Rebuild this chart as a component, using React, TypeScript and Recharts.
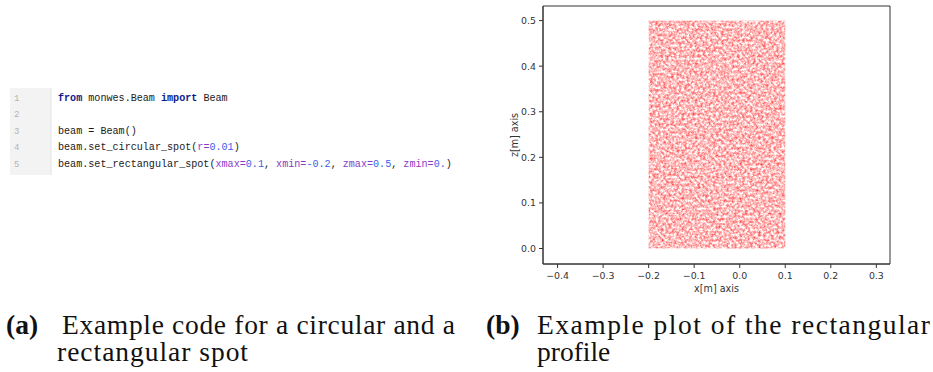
import React from 'react';
import {
  ScatterChart,
  Scatter,
  XAxis,
  YAxis,
  ReferenceArea,
  Label,
} from 'recharts';

// axis ticks of the profile plot
const xTicks = [-0.4, -0.3, -0.2, -0.1, 0.0, 0.1, 0.2, 0.3];
const zTicks = [0.0, 0.1, 0.2, 0.3, 0.4, 0.5];
const xDomain = [-0.432, 0.33];
const zDomain = [-0.034, 0.532];

// rectangular spot extents (xmin, xmax / zmin, zmax)
const spotX = [-0.2, 0.1];
const spotZ = [0.0, 0.5];

// code listing, one array of [text, kind] runs per line
const codeLines: [string, string][][] = [
  [['from', 'kw'], [' monwes.Beam ', 'tx'], ['import', 'kw'], [' Beam', 'tx']],
  [],
  [['beam = Beam()', 'tx']],
  [['beam.set_circular_spot(', 'tx'], ['r=', 'arg'], ['0.01', 'num'], [')', 'tx']],
  [
    ['beam.set_rectangular_spot(', 'tx'],
    ['xmax=', 'arg'], ['0.1', 'num'], [', ', 'tx'],
    ['xmin=', 'arg'], ['-0.2', 'num'], [', ', 'tx'],
    ['zmax=', 'arg'], ['0.5', 'num'], [', ', 'tx'],
    ['zmin=', 'arg'], ['0.', 'num'], [')', 'tx'],
  ],
];

const codeColors: Record<string, string> = {
  kw: '#0b1a8a',
  tx: '#1a1a1a',
  arg: '#8a3cc4',
  num: '#3d5ee8',
};

const fmtTick = (v: number) => {
  const s = Math.abs(v).toFixed(1);
  return v < -1e-9 ? `\u2212${s}` : s;
};

const tickStyle = { fill: '#333', fontSize: 9.4, fontFamily: 'DejaVu Sans' };

const SpeckledRect = (props: any) => {
  const { x, y, width, height } = props;
  return <rect x={x} y={y} width={width} height={height} fill="#ff0000" filter="url(#speckle)" />;
};

function CodePanel() {
  const top = 100.5;
  const step = 16.5;
  return (
    <g>
      <rect x={10} y={88} width={41} height={87} fill="#f3f3f3" />
      <line x1={51} y1={88} x2={51} y2={175} stroke="#e2e2e2" />
      {codeLines.map((runs, i) => (
        <g key={i}>
          <text x={14} y={top + i * step} fontFamily="Liberation Mono" fontSize={9} fill="#b4b4b4">
            {i + 1}
          </text>
          <text x={58} y={top + i * step} fontFamily="Liberation Mono" fontSize={10.1}>
            {runs.map(([t, k], j) => (
              <tspan key={j} fill={codeColors[k]} fontWeight={k === 'kw' ? 700 : 400}>
                {t}
              </tspan>
            ))}
          </text>
        </g>
      ))}
    </g>
  );
}

function Captions() {
  const font = { fontFamily: 'Liberation Serif', fontSize: 27.5, fill: '#111' };
  return (
    <g>
      <text x={6} y={334} {...font} fontWeight={700}>(a)</text>
      <text x={62} y={334} {...font} textLength={393}>Example code for a circular and a</text>
      <text x={57} y={361} {...font} textLength={191}>rectangular spot</text>
      <text x={486} y={334} {...font} fontWeight={700}>(b)</text>
      <text x={537} y={334} {...font} textLength={393}>Example plot of the rectangular</text>
      <text x={537} y={361} {...font}>profile</text>
    </g>
  );
}

export default function App() {
  return (
    <div style={{ position: 'absolute', left: 0, top: 0, width: 933, height: 372, background: '#fff' }}>
      <svg width={933} height={372} style={{ position: 'absolute', left: 0, top: 0 }}>
        <CodePanel />
        <Captions />
      </svg>
      <div style={{ position: 'absolute', left: 490, top: 0 }}>
        <ScatterChart width={443} height={300} margin={{ top: 6, right: 43, bottom: 0, left: 0 }}>
          <defs>
            <filter id="speckle" x="0" y="0" width="1" height="1" colorInterpolationFilters="sRGB">
              <feTurbulence type="fractalNoise" baseFrequency="0.38" numOctaves={3} seed={7} result="noise" />
              <feColorMatrix
                in="noise"
                type="matrix"
                values="0 0 0 0 1  0 0 0 0 0.12  0 0 0 0 0.12  1.4 0 0 0 -0.4"
                result="dots"
              />
              <feGaussianBlur in="dots" stdDeviation="0.3" result="soft" />
              <feComposite in="soft" in2="SourceGraphic" operator="in" />
            </filter>
          </defs>
          <XAxis
            type="number"
            dataKey="x"
            domain={xDomain}
            ticks={xTicks}
            tickFormatter={fmtTick}
            allowDataOverflow
            height={36}
            tickSize={4}
            tickMargin={4}
            stroke="#333"
            tick={tickStyle}
          >
            <Label value="x[m] axis" position="insideBottom" offset={8} style={{ fill: '#333', fontSize: 9.6, fontFamily: 'DejaVu Sans' }} />
          </XAxis>
          <YAxis
            type="number"
            dataKey="z"
            domain={zDomain}
            ticks={zTicks}
            tickFormatter={fmtTick}
            allowDataOverflow
            width={53}
            tickSize={4}
            tickMargin={3}
            stroke="#333"
            tick={tickStyle}
          >
            <Label value="z[m] axis" angle={-90} position="center" dx={-1.5} style={{ fill: '#333', fontSize: 9.6, fontFamily: 'DejaVu Sans' }} />
          </YAxis>
          <ReferenceArea
            x1={spotX[0]}
            x2={spotX[1]}
            y1={spotZ[0]}
            y2={spotZ[1]}
            shape={SpeckledRect}
          />
          {/* frame around the axes */}
          <ReferenceArea
            x1={xDomain[0]}
            x2={xDomain[1]}
            y1={zDomain[0]}
            y2={zDomain[1]}
            fill="none"
            fillOpacity={0}
            stroke="#333"
            strokeWidth={1}
          />
          <Scatter data={[]} isAnimationActive={false} />
        </ScatterChart>
      </div>
    </div>
  );
}
